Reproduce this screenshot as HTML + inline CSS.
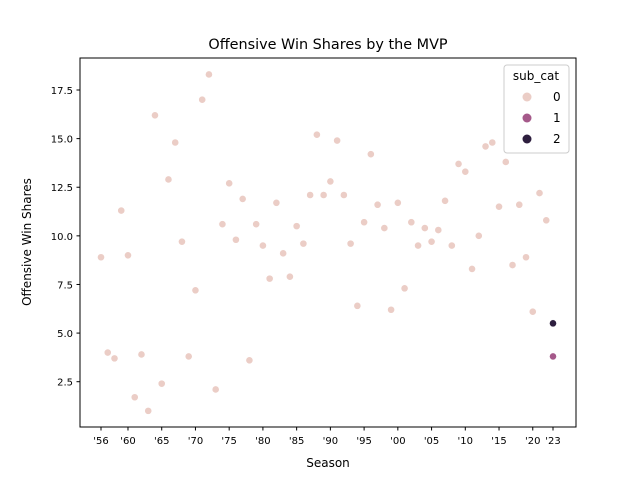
<!DOCTYPE html>
<html><head><meta charset="utf-8"><style>
body{margin:0;background:#fff;}
svg text{font-family:"DejaVu Sans","Liberation Sans",sans-serif;fill:#000;}
</style></head><body>
<svg width="640" height="480" xmlns="http://www.w3.org/2000/svg">
<rect width="640" height="480" fill="#fff"/>
<text x="328" y="49" font-size="14.4" text-anchor="middle">Offensive Win Shares by the MVP</text>
<g id="marks"></g>
<g id="axes"></g>
<rect x="80" y="58" width="496" height="369" fill="none" stroke="#000" stroke-width="1"/>
<text x="328" y="467" font-size="12" text-anchor="middle">Season</text>
<text transform="translate(31,242) rotate(-90)" font-size="12" text-anchor="middle">Offensive Win Shares</text>
<g>
<rect x="504" y="65" width="65" height="88" rx="3" fill="#fff" fill-opacity="0.8" stroke="#ccc"/>
<text x="536" y="80" font-size="12" text-anchor="middle">sub_cat</text>
<circle cx="527" cy="97" r="4.5" fill="#ebcdc6"/>
<text x="553" y="101" font-size="12">0</text>
<circle cx="527" cy="118" r="4.5" fill="#a5598a"/>
<text x="553" y="122" font-size="12">1</text>
<circle cx="527" cy="139" r="4.5" fill="#2d1e3e"/>
<text x="553" y="143" font-size="12">2</text>
</g>
</svg>
<script>
const values=[8.9,4.0,3.7,11.3,9.0,1.7,3.9,1.0,16.2,2.4,12.9,14.8,9.7,3.8,7.2,17.0,18.3,2.1,10.6,12.7,9.8,11.9,3.6,10.6,9.5,7.8,11.7,9.1,7.9,10.5,9.6,12.1,15.2,12.1,12.8,14.9,12.1,9.6,6.4,10.7,14.2,11.6,10.4,6.2,11.7,7.3,10.7,9.5,10.4,9.7,10.3,11.8,9.5,13.7,13.3,8.3,10.0,14.6,14.8,11.5,13.8,8.5,11.6,8.9,6.1,12.2,10.8,5.5];
const extraIndex=[67];
const extraValues=[3.8];
const extraCats=[1];
const yTicks=[2.5,5.0,7.5,10.0,12.5,15.0,17.5];
const xTickIdx=[0,4,9,14,19,24,29,34,39,44,49,54,59,64,67];
const xTickLabels=["'56","'60","'65","'70","'75","'80","'85","'90","'95","'00","'05","'10","'15","'20","'23"];
const cats=values.map((v,i)=>i===67?2:0);
const colors=["#ebcdc6","#a5598a","#2d1e3e"];
const NS="http://www.w3.org/2000/svg";
const n=values.length;
function xs(i){return 101+i*(553-101)/(n-1);}
function ys(v){return 381.7-(v-2.5)*(291.7/15);}
const marks=document.getElementById('marks');
function dot(i,v,c){
 const el=document.createElementNS(NS,'circle');
 el.setAttribute('cx',xs(i));el.setAttribute('cy',ys(v));el.setAttribute('r',3.6);
 el.setAttribute('fill',colors[c]);el.setAttribute('stroke','#fff');el.setAttribute('stroke-width',0.6);
 
 
 marks.appendChild(el);
}
values.forEach((v,i)=>dot(i,v,cats[i]));
extraValues.forEach((v,k)=>dot(extraIndex[k],v,extraCats[k]));
const ax=document.getElementById('axes');
yTicks.forEach(t=>{
 const y=ys(t);
 const l=document.createElementNS(NS,'line');
 l.setAttribute('x1',76.5);l.setAttribute('x2',80);l.setAttribute('y1',y);l.setAttribute('y2',y);l.setAttribute('stroke','#000');
 
 
 ax.appendChild(l);
 const tx=document.createElementNS(NS,'text');
 tx.setAttribute('x',73);tx.setAttribute('y',y+4);tx.setAttribute('font-size',10);tx.setAttribute('text-anchor','end');
 tx.textContent=t.toFixed(1);
 
 
 ax.appendChild(tx);
});
xTickIdx.forEach((ix,k)=>{
 const x=xs(ix);
 const l=document.createElementNS(NS,'line');
 l.setAttribute('x1',x);l.setAttribute('x2',x);l.setAttribute('y1',427);l.setAttribute('y2',430.5);l.setAttribute('stroke','#000');
 
 
 ax.appendChild(l);
 const tx=document.createElementNS(NS,'text');
 tx.setAttribute('x',x);tx.setAttribute('y',444);tx.setAttribute('font-size',10);tx.setAttribute('text-anchor','middle');
 tx.textContent=xTickLabels[k];
 
 
 ax.appendChild(tx);
});
</script>
</body></html>
